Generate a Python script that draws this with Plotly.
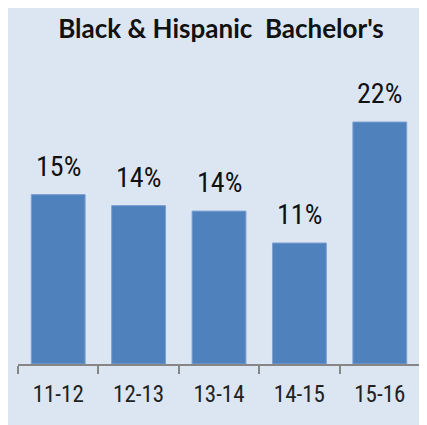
import plotly.graph_objects as go

categories = ["11-12", "12-13", "13-14", "14-15", "15-16"]
values = [15.4, 14.4, 13.9, 11.0, 22.0]
labels = ["15%", "14%", "14%", "11%", "22%"]
title_text = "Black &amp; Hispanic  Bachelor's"

NARROW = "Liberation Sans Narrow, Arial Narrow, Roboto Condensed, sans-serif"

W, H = 419, 417
L, R, T, B = 10, 7, 81, 61
PW, PH = W - L - R, H - T - B

fig = go.Figure()
fig.add_trace(go.Bar(
    x=categories, y=values,
    marker=dict(color="#4F81BD", line=dict(color="#7FA1D0", width=1)),
    width=0.67,
    hoverinfo="skip",
))

for c, v, t in zip(categories, values, labels):
    fig.add_annotation(x=c, y=v, text=t, showarrow=False, yanchor="bottom",
                       yshift=10, font=dict(family=NARROW, size=28, color="#111111"))

fig.add_shape(type="rect", xref="paper", yref="paper", layer="below",
              x0=-L / PW, x1=(415 - L) / PW, y0=-B / PH, y1=(H - B + 3) / PH,
              fillcolor="#DCE6F2", line=dict(width=0))

fig.update_layout(
    width=W, height=H,
    margin=dict(l=L, r=R, t=T, b=B, autoexpand=False),
    paper_bgcolor="white",
    plot_bgcolor="rgba(0,0,0,0)",
    showlegend=False,
    title=dict(text="<b>" + title_text + "</b>", x=213 / W, xanchor="center",
               y=1 - 21 / H, yanchor="middle",
               font=dict(family="Lato, Open Sans, sans-serif", size=26, color="#111111")),
    xaxis=dict(type="category", showline=True, linecolor="#868686", linewidth=2,
               ticks="outside", ticklen=8, tickcolor="#868686", tickwidth=2,
               tickson="boundaries", automargin=False, tickangle=0,
               ticklabelstandoff=8,
               tickfont=dict(family=NARROW, size=23, color="#222222"),
               showgrid=False, fixedrange=True),
    yaxis=dict(range=[0, 25], visible=False, showgrid=False, fixedrange=True),
)

fig.write_html("out.html")
